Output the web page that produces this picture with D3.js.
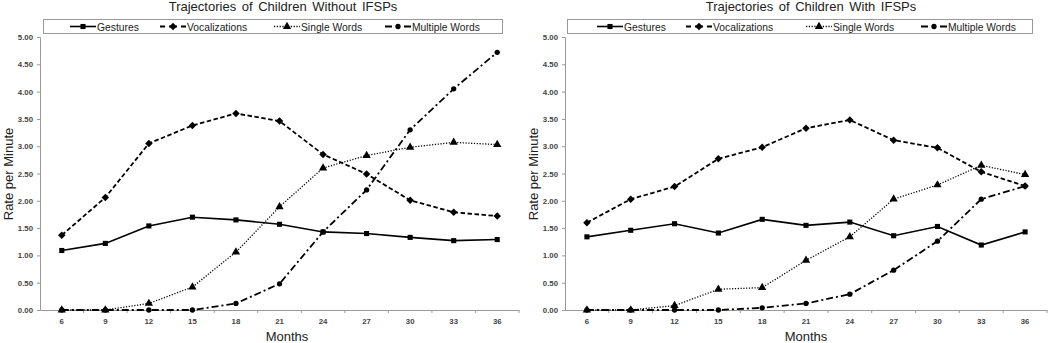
<!DOCTYPE html>
<html>
<head>
<meta charset="utf-8">
<script src="https://cdn.jsdelivr.net/npm/d3@7"></script>
<style>
  body { margin: 0; background: #fff; }
  svg { display: block; font-family: "Liberation Sans", Arial, sans-serif; }
</style>
</head>
<body>
<svg id="chart" width="1050" height="343"></svg>
<script>
// months on the x axis
const months = [6, 9, 12, 15, 18, 21, 24, 27, 30, 33, 36];
const yTicks = [0, 0.5, 1, 1.5, 2, 2.5, 3, 3.5, 4, 4.5, 5];

// children without IFSPs
const withoutGestures = [1.09, 1.22, 1.54, 1.70, 1.65, 1.57, 1.43, 1.40, 1.33, 1.27, 1.29];
const withoutVocal    = [1.37, 2.06, 3.05, 3.38, 3.60, 3.46, 2.85, 2.49, 2.01, 1.79, 1.72];
const withoutSingle   = [0, 0, 0.12, 0.42, 1.06, 1.89, 2.60, 2.83, 2.98, 3.07, 3.03];
const withoutMultiple = [0, 0, 0, 0, 0.12, 0.48, 1.43, 2.20, 3.30, 4.05, 4.72];

// children with IFSPs
const withGestures = [1.34, 1.46, 1.58, 1.41, 1.66, 1.55, 1.61, 1.36, 1.53, 1.19, 1.43];
const withVocal    = [1.60, 2.03, 2.26, 2.77, 2.98, 3.33, 3.48, 3.11, 2.97, 2.53, 2.27];
const withSingle   = [0, 0, 0.08, 0.38, 0.41, 0.91, 1.34, 2.03, 2.29, 2.65, 2.48];
const withMultiple = [0, 0, 0, 0, 0.04, 0.12, 0.29, 0.73, 1.26, 2.03, 2.27];

const seriesNames = ["Gestures", "Vocalizations", "Single Words", "Multiple Words"];

// line + marker style for each series (legend dash is the short sample in the key)
const styles = {
  "Gestures":       {dash: null,      legendDash: null,          width: 1.6, marker: "square"},
  "Vocalizations":  {dash: "4.5,2.5", legendDash: "5,4,8,4,5",   width: 1.8, marker: "diamond"},
  "Single Words":   {dash: "1.2,1.6", legendDash: "1.2,1.6",     width: 1.3, marker: "triangle"},
  "Multiple Words": {dash: "7,3,2,3", legendDash: "7,12,7",      width: 1.8, marker: "circle"}
};

const panels = [
  {title: "Trajectories of Children Without IFSPs", series: [withoutGestures, withoutVocal, withoutSingle, withoutMultiple],
   xRange: [40, 519], titleX: 283, monthsX: 287, yTitleX: 13, legend: [43, 502], legendStarts: [70, 160, 274, 385]},
  {title: "Trajectories of Children With IFSPs", series: [withGestures, withVocal, withSingle, withMultiple],
   xRange: [565, 1047], titleX: 811, monthsX: 806, yTitleX: 538, legend: [567, 1032], legendStarts: [597, 686, 806, 921]}
];

const svg = d3.select("#chart");
const y = d3.scaleLinear().domain([0, 5]).range([310, 37]);

const symbolFor = {
  square: {path: d3.symbol().type(d3.symbolSquare).size(26)(), rot: 0},
  diamond: {path: d3.symbol().type(d3.symbolSquare).size(28)(), rot: 45},
  triangle: {path: d3.symbol().type(d3.symbolTriangle).size(30)(), rot: 0},
  circle: {path: d3.symbol().type(d3.symbolCircle).size(22)(), rot: 0}
};

panels.forEach(p => {
  const g = svg.append("g");
  const x = d3.scaleBand().domain(months).range(p.xRange);
  const cx = d => x(d) + x.bandwidth() / 2;

  // title
  g.append("text")
    .attr("x", p.titleX).attr("y", 11)
    .attr("text-anchor", "middle")
    .attr("font-size", 13).attr("word-spacing", 2)
    .attr("fill", "#222")
    .text(p.title);

  // y axis
  const yAxis = g.append("g")
    .attr("transform", `translate(${p.xRange[0]},0)`)
    .call(d3.axisLeft(y).tickValues(yTicks).tickFormat(d3.format(".2f")).tickSize(3).tickPadding(4));
  yAxis.select(".domain").attr("stroke", "#999");
  yAxis.selectAll(".tick line").attr("stroke", "#999");
  yAxis.selectAll("text").attr("font-size", 7.8).attr("font-weight", "bold").attr("fill", "#444")
    .attr("font-family", "Liberation Sans, Arial, sans-serif");

  // x axis: labels at band centres, ticks at band edges
  const xAxis = g.append("g")
    .attr("transform", `translate(0,${y(0)})`)
    .call(d3.axisBottom(x).tickSize(0).tickPadding(8));
  xAxis.select(".domain").attr("stroke", "#999");
  xAxis.selectAll("text").attr("font-size", 7.8).attr("font-weight", "bold").attr("fill", "#444")
    .attr("font-family", "Liberation Sans, Arial, sans-serif");
  g.append("g").selectAll("line")
    .data(months.slice(1).map(m => x(m)).concat([p.xRange[1]]))
    .join("line")
    .attr("x1", d => d).attr("x2", d => d)
    .attr("y1", y(0)).attr("y2", y(0) + 3)
    .attr("stroke", "#999");

  // axis titles
  g.append("text")
    .attr("x", p.monthsX).attr("y", 341)
    .attr("text-anchor", "middle").attr("font-size", 13).attr("fill", "#222")
    .text("Months");
  g.append("text")
    .attr("transform", `translate(${p.yTitleX},174) rotate(-90)`)
    .attr("text-anchor", "middle").attr("font-size", 13).attr("fill", "#222")
    .text("Rate per Minute");

  // series
  const line = d3.line().x((d, i) => cx(months[i])).y(d => y(d));
  p.series.forEach((vals, si) => {
    const st = styles[seriesNames[si]];
    const sym = symbolFor[st.marker];
    g.append("path")
      .attr("d", line(vals))
      .attr("fill", "none").attr("stroke", "#000")
      .attr("stroke-width", st.width)
      .attr("stroke-dasharray", st.dash);
    g.append("g").selectAll("path")
      .data(vals)
      .join("path")
      .attr("transform", (d, i) => `translate(${cx(months[i])},${y(d)}) rotate(${sym.rot})`)
      .attr("d", sym.path)
      .attr("fill", "#000");
  });

  // legend
  const lg = g.append("g");
  lg.append("rect")
    .attr("x", p.legend[0] + 0.5).attr("y", 19.5)
    .attr("width", p.legend[1] - p.legend[0]).attr("height", 14)
    .attr("fill", "#fff").attr("stroke", "#999");
  const lineW = 26;
  const items = lg.selectAll("g.item").data(seriesNames).join("g")
    .attr("class", "item")
    .attr("transform", (d, i) => `translate(${p.legendStarts[i]},0)`);
  items.append("line")
    .attr("x1", 0).attr("x2", lineW).attr("y1", 26.5).attr("y2", 26.5)
    .attr("stroke", "#000").attr("stroke-width", d => styles[d].width)
    .attr("stroke-dasharray", d => styles[d].legendDash);
  items.append("path")
    .attr("transform", d => `translate(${lineW / 2},26.5) rotate(${symbolFor[styles[d].marker].rot})`)
    .attr("d", d => symbolFor[styles[d].marker].path)
    .attr("fill", "#000");
  items.append("text")
    .attr("x", lineW + 1).attr("y", 30.5)
    .attr("font-size", 10.3).attr("fill", "#222")
    .text(d => d);
});
</script>
</body>
</html>
